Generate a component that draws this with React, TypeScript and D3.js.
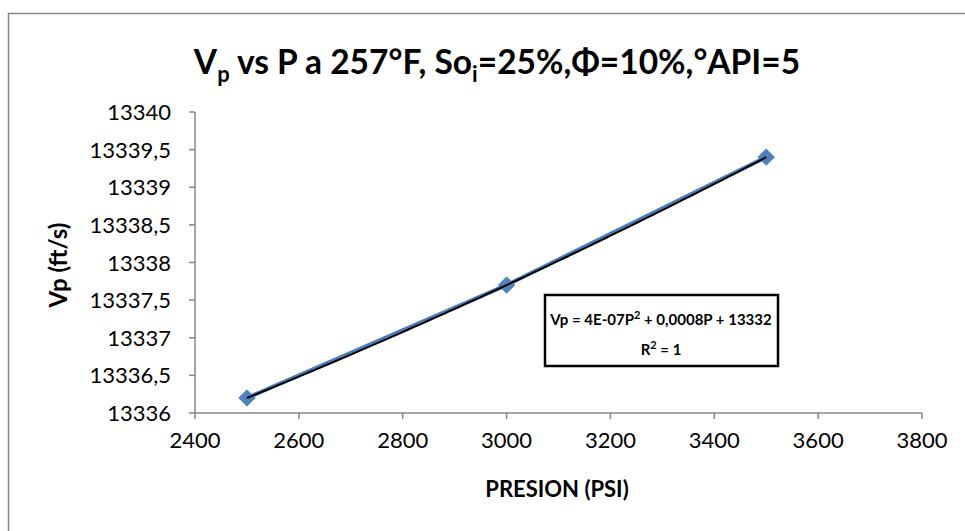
import React from "react";
import * as d3 from "d3";

const pressures = [2500, 3000, 3500];
const velocities = [13336.2, 13337.7, 13339.4];
const xTicks = [2400, 2600, 2800, 3000, 3200, 3400, 3600, 3800];
const yTicks = [13336, 13336.5, 13337, 13337.5, 13338, 13338.5, 13339, 13339.5, 13340];
const FONT = "Lato, 'Open Sans', 'Liberation Sans', sans-serif";

function fitQuadratic(xs: number[], ys: number[]) {
  return (x: number) => {
    let s = 0;
    for (let i = 0; i < xs.length; i++) {
      let t = ys[i];
      for (let j = 0; j < xs.length; j++) if (j !== i) t *= (x - xs[j]) / (xs[i] - xs[j]);
      s += t;
    }
    return s;
  };
}

export default function App() {
  const W = 965, H = 531;
  const left = 195, right = 922, top = 112, bottom = 413;
  const x = d3.scaleLinear().domain([2400, 3800]).range([left, right]);
  const y = d3.scaleLinear().domain([13336, 13340]).range([bottom, top]);
  const fmt = (v: number) => String(v).replace(".", ",");
  const line = d3.line<number>().x((_, i) => x(pressures[i])).y((d) => y(d));
  const f = fitQuadratic(pressures, velocities);
  const trendX = d3.range(2500, 3500.1, 10);
  const trend = d3.line<number>().x((d) => x(d)).y((d) => y(f(d)));
  const diamond = d3.symbol().type(d3.symbolDiamond2).size(170);
  return (
    <svg width={W} height={H} style={{ position: "absolute", left: 0, top: 0 }} fontFamily={FONT}>
      <rect x={0} y={0} width={W} height={H} fill="#fff" />
      <path d={`M8.5,${H}V13.5H${W}`} fill="none" stroke="#878787" strokeWidth={1.5} />
      <text x={497} y={74} textAnchor="middle" fontSize={33.5} fontWeight="bold" fill="#000">
        V<tspan fontSize={22} dy={8}>p</tspan>
        <tspan dy={-8}> vs P a 257°F, So</tspan>
        <tspan fontSize={22} dy={8}>i</tspan>
        <tspan dy={-8}>=25%,Φ=10%,°API=5</tspan>
      </text>
      {/* axes */}
      <line x1={left} x2={left} y1={top} y2={bottom} stroke="#868686" strokeWidth={1.5} />
      <line x1={left} x2={right} y1={bottom} y2={bottom} stroke="#868686" strokeWidth={1.5} />
      {yTicks.map((t) => (
        <g key={t}>
          <line x1={left - 6} x2={left} y1={y(t)} y2={y(t)} stroke="#868686" strokeWidth={1.5} />
          <text x={171} y={y(t) + 8} textAnchor="end" fontSize={22} fill="#000">{fmt(t)}</text>
        </g>
      ))}
      {xTicks.map((t) => (
        <g key={t}>
          <line x1={x(t)} x2={x(t)} y1={bottom} y2={bottom + 6} stroke="#868686" strokeWidth={1.5} />
          <text x={x(t)} y={bottom + 35} textAnchor="middle" fontSize={22} fill="#000">{t}</text>
        </g>
      ))}
      <text x={557} y={497} textAnchor="middle" fontSize={22} fontWeight="bold">PRESION (PSI)</text>
      <text transform={`translate(67,265) rotate(-90)`} textAnchor="middle" fontSize={24} fontWeight="bold">Vp (ft/s)</text>
      {/* series */}
      <path d={line(velocities) || ""} fill="none" stroke="#4A7EBB" strokeWidth={4} />
      {velocities.map((v, i) => (
        <path key={i} d={diamond() || ""} transform={`translate(${x(pressures[i])},${y(v)})`} fill="#4F81BD" stroke="#4A7EBB" strokeWidth={1} />
      ))}
      <path d={trend(trendX) || ""} fill="none" stroke="#000" strokeWidth={2} />
      {/* equation box */}
      <rect x={545} y={295} width={233} height={71} fill="#fff" stroke="#000" strokeWidth={2.5} />
      <text x={661} y={325} textAnchor="middle" fontSize={15} fontWeight="bold">
        Vp = 4E-07P<tspan fontSize={11} dy={-6}>2</tspan><tspan dy={6}> + 0,0008P + 13332</tspan>
      </text>
      <text x={661} y={355} textAnchor="middle" fontSize={15} fontWeight="bold">
        R<tspan fontSize={11} dy={-6}>2</tspan><tspan dy={6}> = 1</tspan>
      </text>
    </svg>
  );
}
